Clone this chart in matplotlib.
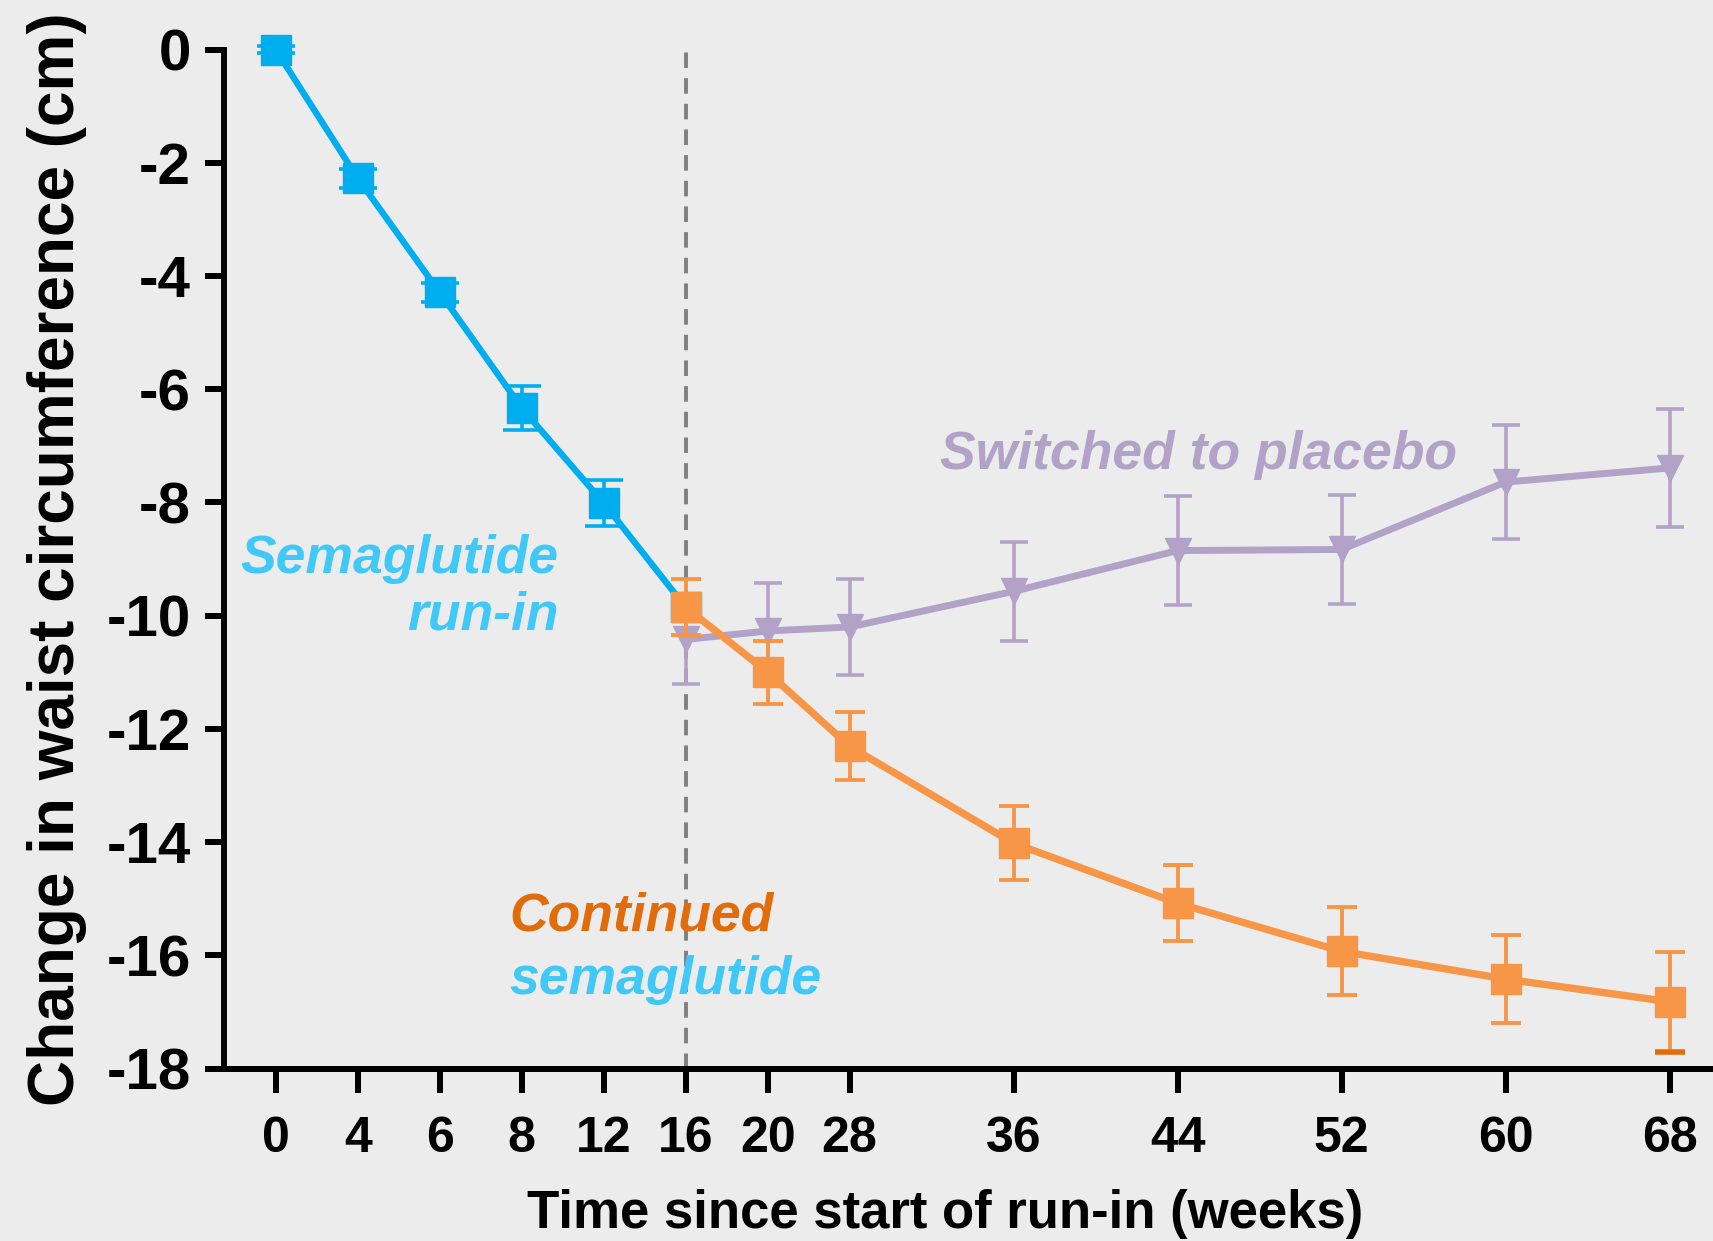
import matplotlib.pyplot as plt
import numpy as np

weeks = ['0', '4', '6', '8', '12', '16', '20', '28', '36', '44', '52', '60', '68']
# axis is not linear in weeks: one slot per visit up to 28, then two slots per 8 weeks
pos = [0, 1, 2, 3, 4, 5, 6, 7, 9, 11, 13, 15, 17]

runin = [0.0, -2.27, -4.29, -6.33, -8.01, -9.85]
runin_err = [0.06, 0.17, 0.17, 0.39, 0.41, 0.0]

cont = [-9.85, -11.0, -12.31, -14.02, -15.08, -15.93, -16.42, -16.82]
cont_err = [0.49, 0.56, 0.6, 0.65, 0.67, 0.78, 0.78, 0.88]

plac = [-10.42, -10.27, -10.2, -9.57, -8.85, -8.83, -7.64, -7.39]
plac_err = [0.78, 0.85, 0.84, 0.87, 0.97, 0.97, 1.0, 1.05]

blue = '#00AEEF'
blue_txt = '#40C8F8'
orange = '#F79646'
orange_txt = '#E36C0A'
purple = '#B3A2C7'
bg = '#ECECEC'

plt.rcParams['font.family'] = ['Liberation Sans', 'DejaVu Sans']
plt.rcParams['font.weight'] = 'bold'

fig = plt.figure(figsize=(17.13, 12.41), dpi=100, facecolor=bg)
ax = fig.add_axes([0.131, 0.139, 0.869, 0.821])
ax.set_facecolor(bg)

x_run = pos[:6]
x_post = pos[5:]

ax.axvline(pos[5], ymin=0, ymax=1, color='#808080', lw=2.8, ls=(0, (4, 2.6)), zorder=1)

ax.errorbar(x_post, plac, yerr=plac_err, color=purple, lw=5, marker='v', ms=19,
            elinewidth=2.6, capsize=10, capthick=2.6, zorder=3, clip_on=False)
ax.plot(x_run, runin, color=blue, lw=4.6, marker='s', ms=22, zorder=4, clip_on=False)
ax.errorbar(x_run[:5], runin[:5], yerr=runin_err[:5], fmt='none', ecolor=blue,
            elinewidth=2.6, capsize=14, capthick=2.6, zorder=4, clip_on=False)
ax.errorbar(x_post, cont, yerr=cont_err, color=orange, lw=5.3, marker='s', ms=22,
            elinewidth=2.8, capsize=11, capthick=2.8, zorder=5, clip_on=False)
# last lower cap is drawn in the darker orange
ax.plot(x_post[-1], cont[-1] - cont_err[-1], marker='_', ms=22, mew=4,
        color=orange_txt, zorder=6, clip_on=False)

ax.set_xlim(-0.626, 17.53)
ax.set_ylim(-18, 0)
ax.set_xticks(pos)
ax.set_xticklabels(weeks)
ax.set_yticks(np.arange(0, -19, -2))
ax.set_yticklabels([str(v) for v in range(0, -19, -2)])

for s in ['top', 'right']:
    ax.spines[s].set_visible(False)
for s in ['left', 'bottom']:
    ax.spines[s].set_linewidth(4.3)
ax.tick_params(axis='y', length=14, width=4.3, labelsize=42, pad=10)
ax.tick_params(axis='x', length=17, width=4.3, labelsize=36, pad=17)

ax.set_ylabel('Change in waist circumference (cm)', fontsize=46, fontweight='bold')
ax.yaxis.set_label_coords(-0.092, 0.5)
ax.set_xlabel('Time since start of run-in (weeks)', fontsize=38, fontweight='bold',
              va='center')
ax.xaxis.set_label_coords(0.552, 0.022, transform=fig.transFigure)

ax.text(3.45, -9.0, 'Semaglutide', color=blue_txt, fontsize=38.5, style='italic',
        fontweight='bold', ha='right', va='center')
ax.text(3.45, -10.0, 'run-in', color=blue_txt, fontsize=38.5, style='italic',
        fontweight='bold', ha='right', va='center')
ax.text(2.85, -15.32, 'Continued', color=orange_txt, fontsize=38.5, style='italic',
        fontweight='bold', ha='left', va='center')
ax.text(2.85, -16.43, 'semaglutide', color=blue_txt, fontsize=38.5, style='italic',
        fontweight='bold', ha='left', va='center')
ax.text(8.1, -7.17, 'Switched to placebo', color=purple, fontsize=38.5, style='italic',
        fontweight='bold', ha='left', va='center')

fig.savefig('out.png', dpi=100, facecolor=bg)
